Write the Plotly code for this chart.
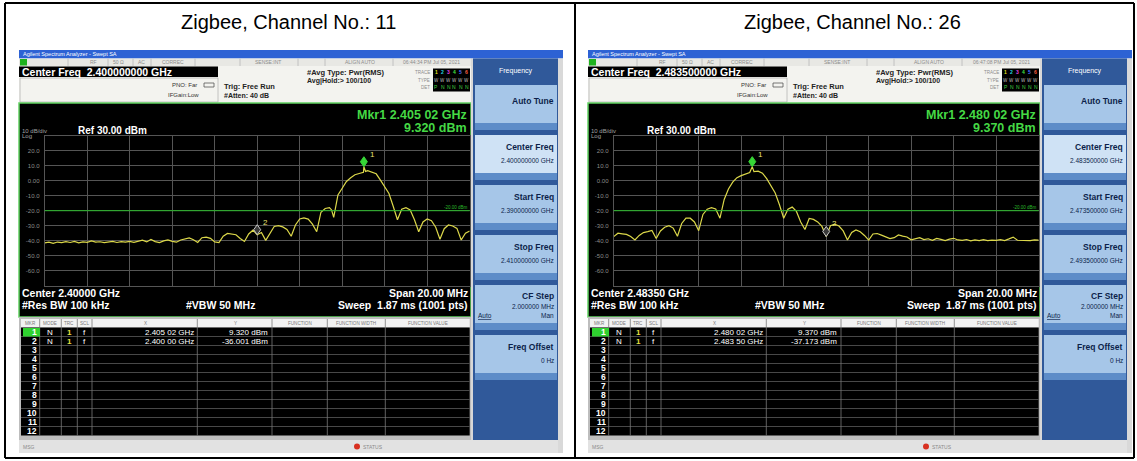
import plotly.graph_objects as go

W, H = 1137, 461

# ---------------- data ----------------
channels = ["11", "26"]
center_ghz = [2.400, 2.4835]
span_mhz = [20.0, 20.0]
timestamps = ["06:44:34 PM Jul 05, 2021", "06:47:08 PM Jul 05, 2021"]
ref_level_dbm = 30.0
db_per_div = 10.0
display_line_dbm = -20.0
rbw_label = "#Res BW 100 kHz"
vbw_label = "#VBW 50 MHz"
sweep_label = "Sweep  1.87 ms (1001 pts)"
ytick_vals = [20, 10, 0, -10, -20, -30, -40, -50, -60]
ytick_text = ["20.0", "10.0", "0.00", "-10.0", "-20.0", "-30.0", "-40.0", "-50.0", "-60.0"]
table_columns = ["MKR", "MODE", "TRC", "SCL", "X", "Y", "FUNCTION", "FUNCTION WIDTH", "FUNCTION VALUE"]
table_rows = ["1", "2", "3", "4", "5", "6", "7", "8", "9", "10", "11", "12"]

freq_ch11 = [2.39000, 2.39020, 2.39040, 2.39060, 2.39080, 2.39100, 2.39120, 2.39140, 2.39160, 2.39180,
             2.39200, 2.39220, 2.39240, 2.39260, 2.39280, 2.39300, 2.39320, 2.39340, 2.39360, 2.39380,
             2.39400, 2.39420, 2.39440, 2.39460, 2.39480, 2.39500, 2.39520, 2.39540, 2.39560, 2.39580,
             2.39600, 2.39620, 2.39640, 2.39660, 2.39680, 2.39700, 2.39720, 2.39740, 2.39760, 2.39780,
             2.39800, 2.39820, 2.39840, 2.39860, 2.39880, 2.39900, 2.39920, 2.39940, 2.39960, 2.39980,
             2.40000, 2.40020, 2.40040, 2.40060, 2.40080, 2.40100, 2.40120, 2.40140, 2.40160, 2.40180,
             2.40200, 2.40220, 2.40240, 2.40260, 2.40280, 2.40300, 2.40320, 2.40340, 2.40350, 2.40360,
             2.40380, 2.40400, 2.40420, 2.40440, 2.40460, 2.40480, 2.40500, 2.40502, 2.40510, 2.40520,
             2.40540, 2.40560, 2.40580, 2.40600, 2.40620, 2.40640, 2.40660, 2.40680, 2.40700, 2.40720,
             2.40740, 2.40760, 2.40780, 2.40800, 2.40820, 2.40840, 2.40860, 2.40880, 2.40900, 2.40920,
             2.40940, 2.40960, 2.40980, 2.41000]
level_ch11 = [-41.5, -41.0, -41.8, -40.9, -41.3, -40.6, -41.2, -40.5, -41.4, -40.8,
              -41.1, -40.2, -41.0, -40.7, -41.3, -40.9, -40.4, -41.2, -40.6, -41.0,
              -40.5, -41.1, -40.3, -39.6, -40.8, -39.2, -40.6, -41.3, -40.1, -39.5,
              -40.4, -41.0, -39.5, -38.6, -38.2, -39.4, -41.2, -38.0, -37.6, -38.4,
              -40.8, -41.2, -37.0, -35.2, -35.8, -36.0, -38.5, -40.5, -35.5, -33.0,
              -36.0, -34.5, -39.8, -35.0, -30.5, -30.0, -30.8, -32.5, -37.0, -29.5,
              -25.5, -24.8, -25.6, -29.0, -34.0, -21.0, -18.5, -18.0, -19.5, -24.5,
              -9.5, -5.0, -0.5, 2.0, 4.0, 4.8, 5.6, 9.32, 6.2, 6.7,
              5.8, 4.6, 0.4, -4.0, -8.5, -17.0, -26.0, -19.0, -18.0, -19.5,
              -26.0, -34.0, -27.5, -25.5, -26.7, -31.0, -39.0, -32.0, -29.5, -30.2,
              -31.8, -39.5, -35.0, -33.5]

freq_ch26 = [2.47350, 2.47370, 2.47390, 2.47410, 2.47430, 2.47450, 2.47470, 2.47490, 2.47510, 2.47530,
             2.47550, 2.47570, 2.47590, 2.47610, 2.47630, 2.47650, 2.47670, 2.47690, 2.47710, 2.47730,
             2.47750, 2.47770, 2.47790, 2.47810, 2.47830, 2.47850, 2.47870, 2.47890, 2.47910, 2.47930,
             2.47950, 2.47970, 2.47990, 2.48002, 2.48010, 2.48030, 2.48050, 2.48070, 2.48090, 2.48110,
             2.48130, 2.48150, 2.48170, 2.48190, 2.48210, 2.48230, 2.48250, 2.48270, 2.48290, 2.48310,
             2.48330, 2.48350, 2.48370, 2.48390, 2.48410, 2.48430, 2.48450, 2.48470, 2.48490, 2.48510,
             2.48530, 2.48550, 2.48570, 2.48590, 2.48610, 2.48630, 2.48650, 2.48670, 2.48690, 2.48710,
             2.48730, 2.48750, 2.48770, 2.48790, 2.48810, 2.48830, 2.48850, 2.48870, 2.48890, 2.48910,
             2.48930, 2.48950, 2.48970, 2.48990, 2.49010, 2.49030, 2.49050, 2.49070, 2.49090, 2.49110,
             2.49130, 2.49150, 2.49170, 2.49190, 2.49210, 2.49230, 2.49250, 2.49270, 2.49290, 2.49310,
             2.49330, 2.49350]
level_ch26 = [-37.3, -35.0, -35.4, -35.8, -37.2, -39.5, -36.5, -34.6, -34.0, -33.2,
              -38.5, -33.5, -31.0, -30.0, -31.6, -37.0, -28.5, -25.0, -25.0, -27.5,
              -33.3, -22.5, -19.0, -18.0, -18.8, -25.0, -12.5, -5.5, -1.0, 2.0,
              3.4, 4.7, 5.5, 9.37, 6.0, 6.4, 5.0, 1.4, -3.2, -8.2,
              -16.0, -25.0, -19.0, -17.6, -20.5, -27.5, -32.5, -25.2, -25.8, -27.5,
              -30.5, -37.173, -30.0, -29.0, -30.2, -33.5, -39.5, -34.5, -32.8, -34.0,
              -36.5, -39.6, -35.5, -35.2, -36.3, -37.3, -38.6, -38.0, -36.2, -36.9,
              -37.5, -39.4, -38.6, -38.0, -39.3, -38.7, -39.8, -38.5, -39.1, -39.9,
              -39.0, -38.4, -39.5, -39.8, -39.2, -40.1, -39.4, -39.9, -39.3, -40.0,
              -39.6, -39.8, -39.3, -39.9, -38.8, -37.6, -39.7, -39.8, -39.4, -39.9,
              -39.5, -39.6]

mkr_freq_ch11 = [2.40502, 2.40000]
mkr_level_ch11 = [9.320, -36.001]
mkr_freq_ch26 = [2.48002, 2.48350]
mkr_level_ch26 = [9.370, -37.173]

traces_freq = [freq_ch11, freq_ch26]
traces_level = [level_ch11, level_ch26]
markers_freq = [mkr_freq_ch11, mkr_freq_ch26]
markers_level = [mkr_level_ch11, mkr_level_ch26]

# ---------------- styling / layout helpers ----------------
FONT = "Arial, Liberation Sans, sans-serif"
PANEL_DX = [0, 569]
GRID = "#555555"
TRACE_COLOR = "#dcd84a"
GREEN = "#45d945"


def X(v):
    return v / W


def Y(v):
    return 1 - v / H


shapes = []
ann = []


def box(x0, y0, x1, y1, fill, line_color=None, lw=0, layer="below"):
    shapes.append(dict(type="rect", xref="paper", yref="paper",
                       x0=X(x0), x1=X(x1), y0=Y(y1), y1=Y(y0), fillcolor=fill,
                       line=dict(color=line_color if line_color else "rgba(0,0,0,0)", width=lw),
                       layer=layer))


def seg(x0, y0, x1, y1, color, lw=1.0, layer="below"):
    shapes.append(dict(type="line", xref="paper", yref="paper",
                       x0=X(x0), x1=X(x1), y0=Y(y0), y1=Y(y1),
                       line=dict(color=color, width=lw), layer=layer))


def txt(x, y, s, size, color, anchor="left", bold=False, family=FONT):
    if bold:
        s = "<b>" + s + "</b>"
    ann.append(dict(xref="paper", yref="paper", x=X(x), y=Y(y), text=s, showarrow=False,
                    xanchor=anchor, yanchor="middle", borderpad=0,
                    font=dict(size=size, color=color, family=family)))


def fmt_ghz(v):
    s = f"{v:.5f}"
    return s[:5] + " " + s[5:]


fig = go.Figure()

# outer table
seg(5, 3, 1134, 3, "black", 2)
seg(5, 458, 1134, 458, "black", 2)
seg(5, 3, 5, 458, "black", 2)
seg(1134, 3, 1134, 458, "black", 2)
seg(575, 3, 575, 458, "black", 2)
title_x = [288, 852]

layout_axes = {}

for i in range(2):
    dx = PANEL_DX[i]
    c = center_ghz[i]
    sp = span_mhz[i] / 1000.0
    f0, f1 = c - sp / 2, c + sp / 2
    xa = "x" if i == 0 else "x2"
    ya = "y" if i == 0 else "y2"

    txt(title_x[i], 22, f"Zigbee, Channel No.: {channels[i]}", 20, "black", anchor="center")

    sx0, sx1 = 19 + dx, 563 + dx
    pr = 471 + dx  # right edge of the main display
    # title bar
    box(sx0, 50, sx1, 58.5, "#2d62d4")
    txt(sx0 + 3, 54.3, "Agilent Spectrum Analyzer - Swept SA", 5.5, "white")
    # status row
    box(sx0, 58.5, pr, 66, "#e8e8e4")
    box(sx0 + 1, 59, sx0 + 8, 65.5, "#1fb31f")
    for xs in [68, 108, 133, 151, 195, 240, 298, 325, 393]:
        seg(xs + dx, 58.5, xs + dx, 66, "#b8b8b8", 0.8)
    for xs, s in [(93, "RF"), (118, "50 Ω"), (141, "AC"), (173, "CORREC"), (268, "SENSE:INT"),
                  (360, "ALIGN AUTO"), (432, timestamps[i])]:
        txt(xs + dx, 62.3, s, 5, "#8c8c8c", anchor="center")
    # info area
    box(sx0, 66, pr, 103, "#f3f3ef")
    box(sx0, 66.5, 218 + dx, 77, "black")
    txt(sx0 + 2, 72, f"Center Freq  {c:.9f} GHz", 10.5, "white", bold=True)
    box(sx0 + 1, 78, 218 + dx, 102, "rgba(0,0,0,0)", "#b5b5b5", 0.8)
    txt(198 + dx, 85, "PNO: Far", 6, "#333333", anchor="right")
    txt(200 + dx, 95.5, "IFGain:Low", 6, "#333333", anchor="right")
    box(204 + dx, 83, 214 + dx, 87, "rgba(0,0,0,0)", "#555555", 0.8)
    txt(223 + dx, 86, "Trig: Free Run", 7.5, "#222222", bold=True)
    txt(223 + dx, 96, "#Atten: 40 dB", 7, "#222222", bold=True)
    txt(306 + dx, 73, "#Avg Type: Pwr(RMS)", 7.5, "#222222", bold=True)
    txt(306 + dx, 81.5, "Avg|Hold:> 100/100", 7, "#222222", bold=True)
    txt(431 + dx, 72, "TRACE", 4.5, "#8c8c8c", anchor="right")
    txt(431 + dx, 80, "TYPE", 4.5, "#8c8c8c", anchor="right")
    txt(431 + dx, 88, "DET", 4.5, "#8c8c8c", anchor="right")
    box(433 + dx, 68.5, 470 + dx, 91.5, "black")
    for k, col in enumerate(["#e0e020", "#20d8e0", "#e040e0", "#40e040", "#5070ff", "#ff6040"]):
        txt(436.5 + dx + 6 * k, 72.5, str(k + 1), 5, col, anchor="center", bold=True)
        txt(436.5 + dx + 6 * k, 80, "W", 4.5, "#bdbdbd", anchor="center")
        txt(436.5 + dx + 6 * k, 87.5, "P" if k == 0 else "N", 5, "#40d040", anchor="center")

    # main black display
    box(sx0, 103, pr, 317, "black", "#62d262", 1.5)
    txt(468 + dx, 115, f"Mkr1 {fmt_ghz(markers_freq[i][0])} GHz", 12.5, GREEN, anchor="right", bold=True)
    txt(468 + dx, 128, f"{markers_level[i][0]:.3f} dBm", 12.5, GREEN, anchor="right", bold=True)
    txt(sx0 + 2, 130.5, f"{db_per_div:.0f} dB/div", 6, "#a0a0a0")
    txt(sx0 + 2, 136, "Log", 6, "#a0a0a0")
    txt(77 + dx, 130.5, f"Ref {ref_level_dbm:.2f} dBm", 10, "white", bold=True)
    txt(sx0 + 2, 293, f"Center {c:.5f} GHz", 10.5, "white", bold=True)
    txt(469 + dx, 293, f"Span {span_mhz[i]:.2f} MHz", 10.5, "white", anchor="right", bold=True)
    txt(sx0 + 2, 305, rbw_label, 10.5, "white", bold=True)
    txt(185 + dx, 305, vbw_label, 10.5, "white", bold=True)
    txt(469 + dx, 305, sweep_label, 10.5, "white", anchor="right", bold=True)

    # marker table
    box(sx0, 317, pr, 440, "#bdbdbd")
    box(21 + dx, 319, 469.7 + dx, 327.5, "#f2f2f2")
    box(21 + dx, 327.5, 469.7 + dx, 435.5, "black")
    for r in range(1, 12):
        seg(21 + dx, 327.5 + 9 * r, 469.7 + dx, 327.5 + 9 * r, "#5a5a5a", 0.8)
    for xs in [39.7, 61.3, 77.3, 92, 197.3, 272, 327.3, 385.3]:
        seg(xs + dx, 319, xs + dx, 435.5, "#7a7a7a", 0.8)
    for xs, s in zip([30, 50, 69, 84, 145, 235, 300, 356, 428], table_columns):
        txt(xs + dx, 323.3, s, 4.6, "#7a7a7a", anchor="center")
    box(23 + dx, 328, 40 + dx, 336.5, "#2fd12f")
    for r, s in enumerate(table_rows):
        txt(38 + dx, 332 + 9 * r, s, 8.5, "white", anchor="right", bold=True)
    for r in range(len(markers_freq[i])):
        yy = 332 + 9 * r
        txt(50 + dx, yy, "N", 8, "white", anchor="center")
        txt(69 + dx, yy, "1", 8, "#e8e040", anchor="center", bold=True)
        txt(84 + dx, yy, "f", 8, "white", anchor="center")
        txt(195 + dx, yy, f"{fmt_ghz(markers_freq[i][r])} GHz", 8, "white", anchor="right")
        txt(269 + dx, yy, f"{markers_level[i][r]:.3f} dBm", 8, "white", anchor="right")

    # message bar
    box(sx0, 440, sx1, 453, "#e2e2e2")
    txt(sx0 + 3, 446.5, "MSG", 5, "#8a8a8a")
    shapes.append(dict(type="circle", xref="paper", yref="paper", x0=X(354 + dx), x1=X(360 + dx),
                       y0=Y(449.5), y1=Y(443.5), fillcolor="#d83020", line=dict(width=0), layer="below"))
    txt(362 + dx, 446.5, "STATUS", 5, "#8a8a8a")

    # soft-key panel
    box(pr, 58.5, pr + 2, 440, "#d8d8d8")
    box(pr + 2, 58.5, 558 + dx, 440, "#30599a")
    box(558 + dx, 58.5, sx1, 453, "#d9d9d9")
    txt(515.5 + dx, 71, "Frequency", 7, "white", anchor="center")
    keys = [
        ("Auto Tune", None),
        ("Center Freq", f"{c:.9f} GHz"),
        ("Start Freq", f"{f0:.9f} GHz"),
        ("Stop Freq", f"{f1:.9f} GHz"),
        ("CF Step", f"{sp / 10 * 1000:.6f} MHz"),
        ("Freq Offset", "0 Hz"),
    ]
    for k, (label, val) in enumerate(keys):
        y0 = 85 + 50 * k
        y1 = y0 + 45
        box(475 + dx, y0, 557 + dx, y1, "#cfe2f5" if k == 1 else "#a6c6e8")
        box(475 + dx, y1 - 7, 557 + dx, y1, "#5d8cc8")
        if val is None:
            txt(555 + dx, y0 + 16, label, 8.5, "#0c1f4a", anchor="right", bold=True)
        elif label == "CF Step":
            txt(555 + dx, y0 + 11, label, 8.5, "#0c1f4a", anchor="right", bold=True)
            txt(555 + dx, y0 + 21, val, 6.5, "#0c1f4a", anchor="right")
            txt(555 + dx, y0 + 30, "Man", 6.5, "#0c1f4a", anchor="right")
            txt(477 + dx, y0 + 30, "<u>Auto</u>", 6.5, "#0c1f4a")
        else:
            txt(555 + dx, y0 + 12, label, 8.5, "#0c1f4a", anchor="right", bold=True)
            txt(555 + dx, y0 + 25, val, 6.5, "#0c1f4a", anchor="right")

    # spectrum trace
    fig.add_trace(go.Scatter(x=traces_freq[i], y=traces_level[i], mode="lines",
                             line=dict(color=TRACE_COLOR, width=1.2),
                             xaxis=xa, yaxis=ya, hoverinfo="skip", showlegend=False))

    # display line
    shapes.append(dict(type="line", xref=f"{xa} domain", yref=ya, x0=0, x1=1,
                       y0=display_line_dbm, y1=display_line_dbm,
                       line=dict(color="#2ab82a", width=1), layer="above"))
    ann.append(dict(xref=f"{xa} domain", yref=ya, x=0.998, y=display_line_dbm, text=f"{display_line_dbm:.2f} dBm",
                    showarrow=False, xanchor="right", yanchor="bottom", borderpad=0,
                    font=dict(size=4.5, color="#2ab82a", family=FONT)))

    # markers
    for m in range(len(markers_freq[i])):
        fill = "#36d636" if m == 0 else "#3a3a3a"
        edge = "#36d636" if m == 0 else "#c8c8c8"
        shapes.append(dict(type="path", xref=xa, yref=ya, xsizemode="pixel", ysizemode="pixel",
                           xanchor=markers_freq[i][m], yanchor=markers_level[i][m],
                           path="M 0 0 L 3.5 5 L 0 10 L -3.5 5 Z",
                           fillcolor=fill, line=dict(color=edge, width=1), layer="above"))
        ann.append(dict(xref=xa, yref=ya, x=markers_freq[i][m], y=markers_level[i][m], text=str(m + 1),
                        showarrow=False, xanchor="left", yanchor="bottom", xshift=4, yshift=6,
                        font=dict(size=8, color="#e8e070", family=FONT)))

    axis_common = dict(showgrid=True, gridcolor=GRID, gridwidth=1, zeroline=False, showline=True,
                       mirror=True, linecolor=GRID, linewidth=1, ticks="", fixedrange=True)
    layout_axes["xaxis" if i == 0 else "xaxis2"] = dict(
        domain=[X(44.7 + dx), X(469.7 + dx)], range=[f0, f1], tick0=f0, dtick=sp / 10,
        showticklabels=False, anchor=ya, **axis_common)
    layout_axes["yaxis" if i == 0 else "yaxis2"] = dict(
        domain=[Y(285.7), Y(135.7)], range=[ref_level_dbm - 10 * db_per_div, ref_level_dbm],
        tickvals=ytick_vals, ticktext=ytick_text, anchor=xa, ticklabelstandoff=3,
        tickfont=dict(size=6, color="#8c8c8c", family=FONT), **axis_common)

fig.update_layout(
    width=W, height=H, autosize=False,
    margin=dict(l=0, r=0, t=0, b=0, pad=0),
    paper_bgcolor="white", plot_bgcolor="black",
    showlegend=False, shapes=shapes, annotations=ann,
    **layout_axes,
)

fig.write_html("out.html", config={"displayModeBar": False},
               post_script="document.body.style.margin='0px';document.body.style.overflow='hidden';")
